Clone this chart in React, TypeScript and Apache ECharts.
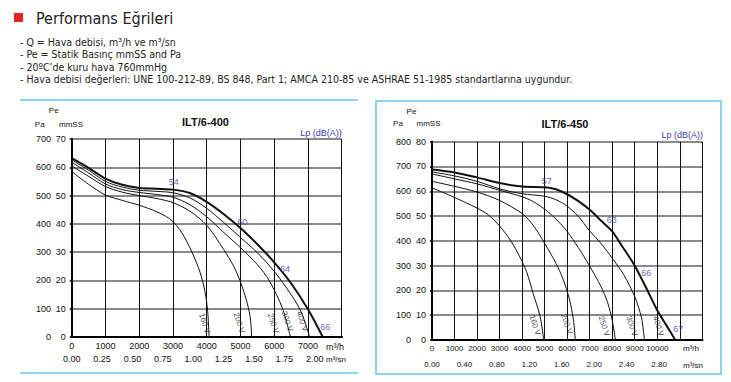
import React, { useEffect, useRef } from 'react';
import * as echarts from 'echarts';

// ---------- DATA ----------
// ILT/6-400 : flow (m3/h) vs static pressure (Pa)
const a400_v400 = [[0,632],[500,598],[1000,560],[1500,538],[2000,527],[2500,524],[3000,521],[3500,509],[4000,478],[4500,435],[5000,385],[5500,328],[6000,264],[6500,190],[7000,98],[7440,0]];
const a400_v300 = [[0,626],[500,590],[1000,550],[1500,530],[2000,519],[2500,515],[3000,510],[3500,492],[4000,455],[4500,405],[5000,352],[5500,298],[6000,232],[6500,150],[6800,88],[7050,0]];
const a400_v250 = [[0,618],[500,580],[1000,541],[1500,521],[2000,511],[2500,504],[3000,494],[3500,468],[4000,425],[4500,370],[5000,316],[5500,256],[5850,200],[6250,100],[6480,0]];
const a400_v200 = [[0,605],[500,568],[1000,532],[1500,512],[2000,500],[2500,490],[3000,475],[3500,445],[4000,395],[4500,310],[4800,250],[5000,195],[5200,120],[5300,60],[5330,0]];
const a400_v160 = [[0,585],[500,540],[1000,502],[1500,483],[2000,466],[2500,444],[2800,426],[3000,408],[3200,380],[3400,340],[3600,290],[3800,230],[3950,160],[4030,90],[4070,0]];

// ILT/6-450
const a450_v400 = [[0,688],[1000,676],[2000,656],[3000,633],[4000,619],[5000,616],[5500,608],[6000,588],[6500,560],[7000,525],[7500,482],[8000,438],[8500,370],[9000,300],[9500,212],[10000,120],[10400,60],[10800,0]];
const a450_v300 = [[0,678],[1000,662],[2000,640],[3000,610],[4000,590],[5000,580],[5500,566],[6000,540],[6500,498],[7000,440],[7500,390],[8000,330],[8500,265],[9000,175],[9300,90],[9430,0]];
const a450_v250 = [[0,670],[1000,650],[2000,630],[3000,604],[4000,578],[4500,558],[5000,528],[5500,488],[6000,438],[6500,372],[7000,298],[7500,216],[7800,150],[8000,80],[8140,0]];
const a450_v200 = [[0,640],[1000,620],[2000,597],[3000,563],[4000,510],[4500,462],[5000,390],[5500,310],[5800,250],[6100,165],[6280,80],[6360,0]];
const a450_v160 = [[0,614],[1000,575],[2000,532],[2500,505],[3000,460],[3500,400],[3900,335],[4200,275],[4500,185],[4800,95],[4960,0]];

const voltages = ['160 V', '200 V', '250 V', '300 V', '400 V'];
const voltPos400 = [[3935,48],[4960,50],[5975,48],[6385,55],[6830,55]];
const voltPos450 = [[4570,60],[5980,65],[7640,56],[8870,56],[10050,56]];

const dbLabels400 = ['54', '60', '64', '66'];
const dbPos400 = [[3025,547],[5060,405],[6320,239],[7510,36]];
const dbLabels450 = ['57', '63', '66', '67'];
const dbPos450 = [[5090,641],[7980,484],[9510,271],[10930,44]];

const headerLines = [
  '- Q = Hava debisi, m³/h ve m³/sn',
  '- Pe = Statik Basınç mmSS and Pa',
  '- 20ºC\u2019de kuru hava 760mmHg',
  '- Hava debisi değerleri: UNE 100-212-89, BS 848, Part 1; AMCA 210-85 ve ASHRAE 51-1985 standartlarına uygundur.',
];

// ---------- STYLE ----------
const FONT = '"Liberation Sans", Arial, sans-serif';
const HFONT = '"DejaVu Sans Condensed", "DejaVu Sans", sans-serif';
const BLUE = '#3c3ca6';
const FRAME = '#8ad4f2';

function curve(data: number[][], xi: number, yi: number, bold: boolean) {
  return {
    type: 'line', xAxisIndex: xi, yAxisIndex: yi, data, showSymbol: false, smooth: 0.3,
    lineStyle: { color: '#111', width: bold ? 2 : 1 }, silent: true, z: 10,
  };
}

function labels(names: string[], pos: number[][], xi: number, yi: number, color: string, size: number, rotate: number) {
  return {
    type: 'scatter', xAxisIndex: xi, yAxisIndex: yi, symbolSize: 0, silent: true, z: 11,
    data: names.map((n, i) => ({ name: n, value: pos[i] })),
    label: { show: true, position: 'inside', formatter: '{b}', color, fontSize: size, fontFamily: FONT, rotate },
  };
}

function txt(text: string, x: number, y: number, size: number, opts: any = {}) {
  return {
    type: 'text', x, y, silent: true,
    style: { text, fontSize: size, fontFamily: opts.family || FONT, fontWeight: opts.weight || 'normal', fill: opts.color || '#111', align: opts.align || 'center', verticalAlign: 'middle' },
  };
}

const blackLine = { show: true, lineStyle: { color: '#000', width: 2 } };

function panelAxes(gi: number, xmax: number, xLastLabel: number, ymaxPa: number, paOffset: number, xFont: number, sMargin: number, sInterval: number, sLast: number) {
  const xAxes = [
    { gridIndex: gi, type: 'value', position: 'bottom', min: 0, max: xmax, interval: 1000, z: 2,
      axisLine: blackLine, axisTick: { show: false },
      axisLabel: { fontSize: xFont, fontFamily: FONT, color: '#111', margin: 4, formatter: (v: number) => (v > xLastLabel ? '' : String(v)) },
      splitLine: { show: true, lineStyle: { color: '#111', width: 1 } } },
    { gridIndex: gi, type: 'value', position: 'bottom', offset: 14.5, min: 0, max: xmax / 3600, interval: sInterval, z: 2,
      axisLine: blackLine, axisTick: { show: false },
      axisLabel: { fontSize: xFont, fontFamily: FONT, color: '#111', margin: sMargin, formatter: (v: number) => (v > sLast + 1e-6 ? '' : v.toFixed(2)) },
      splitLine: { show: false } },
    { gridIndex: gi, type: 'value', position: 'top', min: 0, max: xmax, z: 3,
      axisLine: blackLine, axisTick: { show: false }, axisLabel: { show: false }, splitLine: { show: false } },
  ];
  const yAxes = [
    { gridIndex: gi, type: 'value', position: 'left', offset: paOffset, min: 0, max: ymaxPa, interval: 100, z: 3,
      axisLine: blackLine, axisTick: { show: true, length: 2, lineStyle: { color: '#000', width: 1.5 } },
      axisLabel: { fontSize: 9, fontFamily: FONT, color: '#111', margin: 3 }, splitLine: { show: false } },
    { gridIndex: gi, type: 'value', position: 'left', min: 0, max: ymaxPa / 10, interval: 10, z: 1,
      axisLine: blackLine, axisTick: { show: false },
      axisLabel: { fontSize: 9, fontFamily: FONT, color: '#111', margin: 6 },
      splitLine: { show: true, lineStyle: { color: '#8a8a8a', width: 2 } } },
    { gridIndex: gi, type: 'value', position: 'right', min: 0, max: ymaxPa, z: 3,
      axisLine: blackLine, axisTick: { show: false }, axisLabel: { show: false }, splitLine: { show: false } },
  ];
  return { xAxes, yAxes };
}

export default function App() {
  const ref = useRef<HTMLDivElement>(null);
  useEffect(() => {
    if (!ref.current) return;
    const chart = echarts.init(ref.current, undefined, { renderer: 'svg' });
    const p0 = panelAxes(0, 8000, 7000, 700, 17.7, 9, 3, 0.25, 2.0);
    const p1 = panelAxes(1, 12000, 10000, 800, 18, 8, 6, 0.4, 2.8);

    const graphic: any[] = [
      { type: 'rect', shape: { x: 14, y: 13, width: 9, height: 9 }, style: { fill: '#e52421' }, silent: true },
      txt('Performans Eğrileri', 36, 18, 16, { family: HFONT, color: '#222', align: 'left' }),
      ...headerLines.map((l, i) => txt(l, 20, 42 + i * 12.4, 10.5, { family: HFONT, color: '#222', align: 'left' })),
      { type: 'line', shape: { x1: 20, y1: 100, x2: 358, y2: 100 }, style: { stroke: FRAME, lineWidth: 2 }, silent: true },
      { type: 'line', shape: { x1: 20, y1: 373, x2: 358, y2: 373 }, style: { stroke: FRAME, lineWidth: 2 }, silent: true },
      { type: 'rect', shape: { x: 376, y: 101, width: 345, height: 273 }, style: { fill: 'none', stroke: FRAME, lineWidth: 2 }, silent: true },
      // left panel texts
      txt('Pe', 53.7, 110.7, 8),
      txt('Pa', 39.7, 124, 8),
      txt('mmSS', 71, 124, 8),
      txt('ILT/6-400', 205.5, 122, 11, { weight: 'bold' }),
      txt('Lp (dB(A))', 341.7, 133.3, 9, { color: BLUE, align: 'right' }),
      txt('m³/h', 335, 346.5, 9),
      txt('m³/sn', 336, 359, 8),
      // right panel texts
      txt('Pe', 411.5, 111, 8),
      txt('Pa', 398, 123.3, 8),
      txt('mmSS', 428.5, 123, 8),
      txt('ILT/6-450', 565, 124.3, 11, { weight: 'bold' }),
      txt('Lp (dB(A))', 703, 135, 9, { color: BLUE, align: 'right' }),
      txt('m³/h', 691, 348, 8),
      txt('m³/sn', 693, 365, 8),
    ];

    const s400 = [a400_v160, a400_v200, a400_v250, a400_v300, a400_v400];
    const s450 = [a450_v160, a450_v200, a450_v250, a450_v300, a450_v400];

    chart.setOption({
      animation: false,
      grid: [
        { left: 71.7, top: 139, width: 270, height: 198, show: false },
        { left: 432, top: 141.7, width: 270.3, height: 198.3, show: false },
      ],
      xAxis: [...p0.xAxes, ...p1.xAxes],
      yAxis: [...p0.yAxes, ...p1.yAxes],
      graphic,
      series: [
        ...s400.map((d, i) => curve(d, 0, 0, i === 4)),
        ...s450.map((d, i) => curve(d, 3, 3, i === 4)),
        labels(voltages, voltPos400, 0, 0, '#111', 8, -72),
        labels(voltages, voltPos450, 3, 3, '#111', 8, -72),
        labels(dbLabels400, dbPos400, 0, 0, BLUE, 9, 0),
        labels(dbLabels450, dbPos450, 3, 3, BLUE, 9, 0),
      ],
    });
    return () => chart.dispose();
  }, []);
  return <div ref={ref} style={{ position: 'absolute', left: 0, top: 0, width: 731, height: 382, background: '#fff' }} />;
}
